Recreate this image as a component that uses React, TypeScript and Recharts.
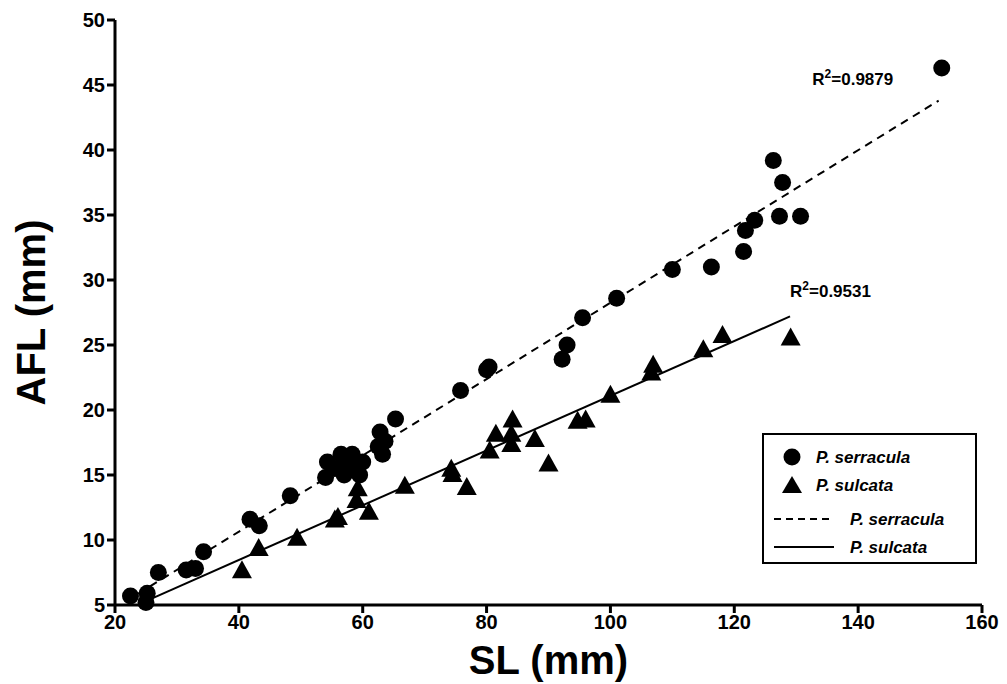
import React from 'react';
import { ScatterChart, Scatter, XAxis, YAxis, ReferenceDot } from 'recharts';

const serracula = [
  [22.5, 5.7], [25, 5.2], [25.2, 5.9], [27, 7.5], [31.5, 7.7], [33, 7.8], [34.3, 9.1], [41.8, 11.6], [43.3, 11.1],
  [48.3, 13.4], [54, 14.8], [54.3, 16], [55.5, 15.5], [56.5, 16.6], [57, 15], [57.5, 16], [58.3, 16.6], [58.7, 15.4],
  [59.5, 15], [60, 16], [62.5, 17.2], [62.8, 18.3], [63.2, 16.6], [63.6, 17.6], [65.3, 19.3], [75.8, 21.5],
  [80, 23.1], [80.4, 23.3], [92.2, 23.9], [93, 25], [95.5, 27.1], [101, 28.6], [110, 30.8], [116.3, 31],
  [121.5, 32.2], [121.8, 33.8], [123.3, 34.6], [126.3, 39.2], [127.3, 34.9], [127.8, 37.5], [130.7, 34.9], [153.5, 46.3],
].map(([x, y]) => ({ x, y }));

const sulcata = [
  [40.5, 7.6], [43.2, 9.3], [49.4, 10.1], [55.5, 11.5], [56, 11.7], [59, 13], [59.2, 13.9], [61, 12.1], [66.8, 14.1],
  [74.3, 15.4], [74.5, 15], [76.8, 14], [80.5, 16.8], [81.5, 18.1], [84, 18.1], [84.2, 19.2], [84, 17.3], [87.8, 17.7],
  [90, 15.8], [94.7, 19.1], [96, 19.2], [100, 21.1], [106.6, 22.8], [106.9, 23.4], [115, 24.6], [118.1, 25.7], [129.1, 25.5],
].map(([x, y]) => ({ x, y }));

// trend line endpoints
const serraculaFit = [{ x: 21.8, y: 5.3 }, { x: 153, y: 43.8 }];
const sulcataFit = [{ x: 25, y: 5.3 }, { x: 129, y: 27.2 }];

const xTicks = [20, 40, 60, 80, 100, 120, 140, 160];
const yTicks = [5, 10, 15, 20, 25, 30, 35, 40, 45, 50];

const font = '"Liberation Sans", Arial, sans-serif';
const tickStyle = { fontSize: 20, fontWeight: 700, fill: '#000', fontFamily: font };
const titleStyle = { fontSize: 40, fontWeight: 700, fill: '#000', fontFamily: font };

const Dot = (p: any) => <circle cx={p.cx} cy={p.cy} r={8.5} fill="#000" />;
const Tri = (p: any) => (
  <polygon points={`${p.cx},${p.cy - 11} ${p.cx - 10},${p.cy + 7} ${p.cx + 10},${p.cy + 7}`} fill="#000" />
);

const R2 = (value: string) => (props: any) => {
  const { viewBox } = props;
  return (
    <text x={viewBox.x} y={viewBox.y} fontFamily={font} fontWeight={700} fontSize={17} fill="#000">
      R<tspan dy={-7} fontSize={12}>2</tspan><tspan dy={7}>={value}</tspan>
    </text>
  );
};

const Legend = () => (
  <div style={{ position: 'absolute', left: 762, top: 433, width: 211, height: 127, border: '2px solid #000', background: '#fff', fontFamily: font, fontSize: 17, fontWeight: 700 }}>
    <svg width={211} height={127}>
      <circle cx={28} cy={22} r={8.5} fill="#000" />
      <polygon points="28,41 18,58 38,58" fill="#000" />
      <line x1={10} x2={70} y1={84} y2={84} stroke="#000" strokeWidth={2} strokeDasharray="7 5" />
      <line x1={10} x2={70} y1={112} y2={112} stroke="#000" strokeWidth={2} />
      <g fontStyle="italic">
        <text x={52} y={28}>P. serracula</text>
        <text x={52} y={56}>P. sulcata</text>
        <text x={86} y={90}>P. serracula</text>
        <text x={86} y={118}>P. sulcata</text>
      </g>
    </svg>
  </div>
);

export default function App() {
  return (
    <div style={{ position: 'absolute', left: 0, top: 0, width: 1007, height: 684, background: '#fff' }}>
      <ScatterChart width={1007} height={684} margin={{ top: 20, right: 25, bottom: 0, left: 0 }}>
        <XAxis type="number" dataKey="x" domain={[20, 160]} ticks={xTicks} tick={tickStyle} height={79}
          axisLine={{ stroke: '#000', strokeWidth: 3 }} tickLine={{ stroke: '#000', strokeWidth: 3 }} tickSize={8}
          label={(p: any) => <text x={p.viewBox.x + p.viewBox.width / 2} y={674} textAnchor="middle" {...titleStyle}>SL (mm)</text>} />
        <YAxis type="number" dataKey="y" domain={[5, 50]} ticks={yTicks} tick={tickStyle} width={115}
          axisLine={{ stroke: '#000', strokeWidth: 3 }} tickLine={{ stroke: '#000', strokeWidth: 3 }} tickSize={8}
          label={(p: any) => {
            const cy = p.viewBox.y + p.viewBox.height / 2;
            return <text x={45} y={cy} textAnchor="middle" transform={`rotate(-90 45 ${cy})`} {...titleStyle}>AFL (mm)</text>;
          }} />
        <Scatter data={serraculaFit} line={{ stroke: '#000', strokeWidth: 2, strokeDasharray: '8 6' }} shape={() => null} isAnimationActive={false} />
        <Scatter data={sulcataFit} line={{ stroke: '#000', strokeWidth: 2 }} shape={() => null} isAnimationActive={false} />
        <Scatter data={serracula} fill="#000" shape={Dot} isAnimationActive={false} />
        <Scatter data={sulcata} fill="#000" shape={Tri} isAnimationActive={false} />
        <ReferenceDot x={132.6} y={45} r={0} label={R2('0.9879')} />
        <ReferenceDot x={129} y={28.7} r={0} label={R2('0.9531')} />
      </ScatterChart>
      <Legend />
    </div>
  );
}
